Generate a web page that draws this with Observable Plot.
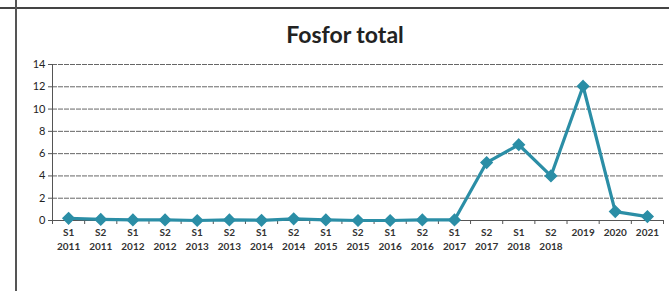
<!DOCTYPE html>
<html>
<head>
<meta charset="utf-8">
<script src="https://cdn.jsdelivr.net/npm/d3@7"></script>
<script src="https://cdn.jsdelivr.net/npm/@observablehq/plot@0.6"></script>
<style>
  html, body { margin: 0; padding: 0; background: #fff; }
  #wrap { position: relative; width: 669px; height: 291px; overflow: hidden; font-family: Lato, "Open Sans", sans-serif; }
  #title { position: absolute; left: 0; width: 690px; top: 20px; text-align: center; font-size: 23px; font-weight: bold; color: #222; }
  #hline { position: absolute; left: 0; top: 7px; width: 669px; height: 2px; background: #444; }
  #vline { position: absolute; left: 15px; top: 0; width: 1.5px; height: 291px; background: #555; }
  #plot { position: absolute; left: 0; top: 0; }
</style>
</head>
<body>
<div id="wrap">
  <div id="hline"></div>
  <div id="vline"></div>
  <div id="title">Fosfor total</div>
  <div id="plot"></div>
</div>
<script>
const categories = ["S1 2011","S2 2011","S1 2012","S2 2012","S1 2013","S2 2013","S1 2014","S2 2014","S1 2015","S2 2015","S1 2016","S2 2016","S1 2017","S2 2017","S1 2018","S2 2018","2019","2020","2021"];
const values = [0.2,0.1,0.05,0.05,0.0,0.05,0.02,0.15,0.05,0.0,0.0,0.05,0.05,5.2,6.8,4.0,12.05,0.8,0.35];
const yTicks = [0,2,4,6,8,10,12,14];

const data = categories.map((c, i) => ({i, c, v: values[i]}));
const boundaries = d3.range(categories.length + 1).map(i => i - 0.5);
const color = "#2b8ea6";

const chart = Plot.plot({
  width: 669,
  height: 291,
  marginTop: 64,
  marginBottom: 71,
  marginLeft: 52,
  marginRight: 6,
  style: {fontFamily: "Lato, 'Open Sans', sans-serif", background: "transparent"},
  x: {domain: [-0.5, categories.length - 0.5]},
  y: {domain: [0, 14]},
  marks: [
    Plot.gridY(yTicks, {stroke: "#666", strokeOpacity: 1, strokeWidth: 1, strokeDasharray: "5,1", x1: -0.5, x2: categories.length - 0.5}),
    Plot.axisY(yTicks, {tickSize: 4, tickPadding: 3, fontSize: 11, stroke: "#555", fill: "#222", label: null}),
    Plot.ruleX([-0.5], {stroke: "#555"}),
    Plot.ruleY([0], {stroke: "#555"}),
    Plot.axisX(boundaries, {tickSize: 4, tickFormat: () => "", stroke: "#555", label: null}),
    Plot.axisX(d3.range(categories.length), {tickSize: 0, tickPadding: 6, fontSize: 10, fontWeight: "bold", fill: "#333", lineHeight: 1.35,
      tickFormat: i => categories[i].replace(" ", "\n"), label: null}),
    Plot.line(data, {x: "i", y: "v", stroke: color, strokeWidth: 3.2, strokeLinejoin: "round"}),
    Plot.dot(data, {x: "i", y: "v", symbol: "diamond2", r: 5, fill: color, stroke: color})
  ]
});
document.getElementById("plot").appendChild(chart);
</script>
</body>
</html>
